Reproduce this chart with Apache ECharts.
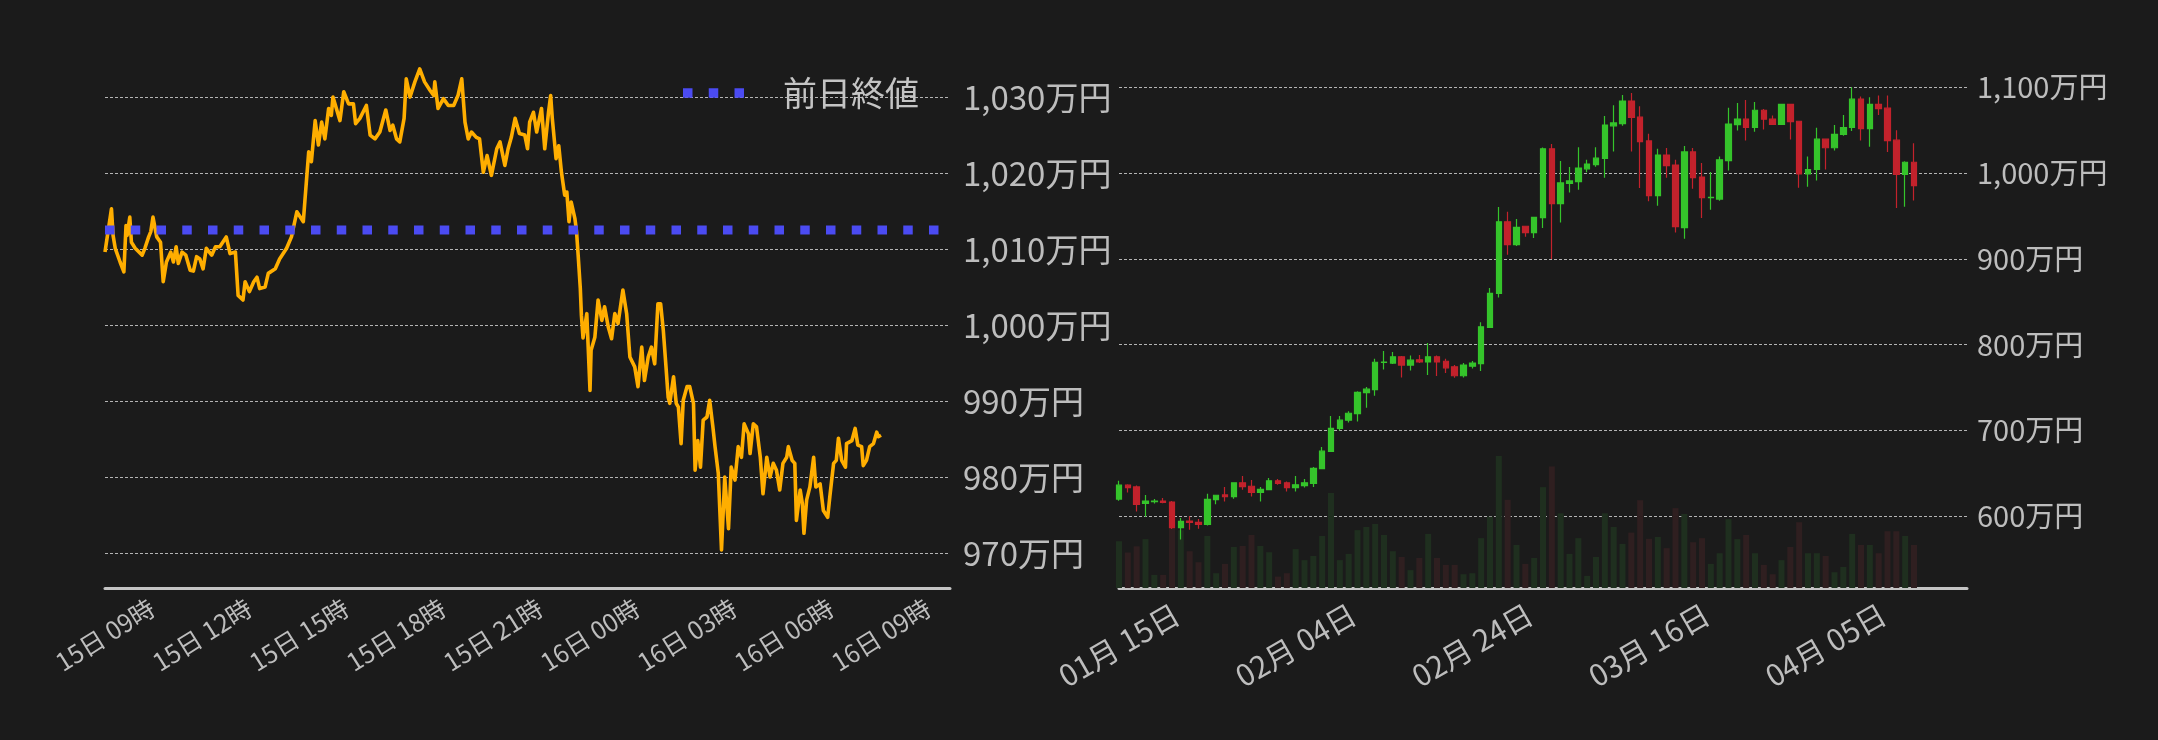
<!DOCTYPE html>
<html>
<head>
<meta charset="utf-8">
<script src="https://cdn.jsdelivr.net/npm/echarts@6/dist/echarts.min.js"></script>
<style>
html,body{margin:0;padding:0;background:#1b1b1b;}
#c{width:2158px;height:740px;}
</style>
</head>
<body>
<div id="c"></div>
<script>
// ---------- Left: intraday price (minutes after 15日 09:00) ----------
const lineMinutes = [0,12,15,19,28,35,39,41,46,49,56,69,74,81,85,89,96,103,108,114,122,127,132,136,143,150,158,164,170,176,182,188,198,205,213,225,232,242,247,256,260,268,276,282,287,297,303,316,324,337,346,356,368,371,378,383,390,396,402,408,415,420,423,436,443,452,461,465,473,485,492,501,510,521,529,534,541,547,555,559,566,575,584,593,603,610,612,618,628,637,647,655,662,668,674,680,689,695,702,709,717,727,733,742,748,754,761,769,779,784,788,795,801,810,816,823,827,830,837,842,847,853,857,861,865,872,875,878,882,884,887,894,900,902,909,915,922,927,934,940,946,952,961,968,974,983,989,996,1001,1008,1014,1020,1026,1031,1036,1041,1045,1048,1055,1060,1064,1069,1073,1080,1085,1092,1095,1100,1105,1110,1117,1122,1128,1132,1138,1144,1150,1157,1162,1169,1175,1181,1186,1194,1197,1203,1209,1216,1221,1228,1234,1240,1246,1252,1258,1265,1268,1275,1280,1283,1290,1294,1297,1302,1308,1315,1319,1327,1333,1341,1345,1352,1357,1361,1367,1374,1376,1386,1392,1397,1404,1407,1413,1419,1426,1432,1435,1440];
const linePrices = [1009.6,1015.3,1011.8,1010.1,1008.3,1007.0,1013.1,1011.8,1014.2,1010.9,1010.1,1009.2,1010.1,1011.6,1012.3,1014.2,1011.6,1010.9,1005.7,1008.3,1009.6,1008.3,1010.3,1008.1,1009.6,1009.2,1007.2,1007.1,1009.0,1008.7,1007.4,1010.1,1009.2,1010.3,1010.3,1011.6,1009.4,1009.6,1003.9,1003.3,1005.7,1004.4,1005.7,1006.3,1004.8,1005.0,1006.8,1007.4,1008.7,1010.1,1011.6,1014.9,1013.6,1016.4,1022.8,1021.5,1026.9,1023.7,1026.7,1024.5,1028.5,1027.6,1030.0,1026.9,1030.7,1029.1,1029.1,1026.5,1027.2,1028.9,1025.0,1024.5,1025.4,1028.3,1025.6,1026.3,1024.5,1024.1,1027.2,1032.4,1030.0,1032.0,1033.7,1032.0,1030.9,1030.2,1032.0,1028.5,1029.8,1028.9,1028.9,1030.2,1032.4,1026.7,1024.5,1025.4,1024.7,1024.5,1020.1,1022.3,1019.7,1023.2,1024.1,1021.0,1023.2,1024.7,1027.2,1025.2,1025.0,1023.2,1026.7,1028.0,1025.4,1028.5,1023.2,1028.0,1030.2,1027.2,1021.9,1023.6,1020.1,1017.1,1017.5,1013.6,1016.2,1014.0,1012.3,1009.2,1004.8,1001.3,998.3,1001.5,991.4,996.7,998.4,1003.3,1000.6,1002.4,999.7,998.2,1001.5,1000.2,1004.6,1001.5,995.8,994.5,991.9,997.1,992.7,995.8,997.1,994.9,1002.8,1002.8,999.3,994.5,990.5,989.7,993.2,989.7,989.2,984.4,990.1,991.9,991.9,989.7,980.9,984.8,981.3,987.5,987.9,990.1,986.6,984.0,980.5,970.4,980.0,973.2,981.3,979.6,984.0,982.6,987.0,985.7,983.1,987.0,986.6,982.6,977.8,982.6,980.0,981.8,980.9,978.3,981.8,982.6,984.0,982.2,981.8,974.3,978.3,976.5,972.6,977.0,978.7,982.6,978.7,979.1,975.6,974.7,977.4,981.8,982.2,985.1,982.2,981.3,984.4,984.8,986.4,984.2,984.0,981.5,982.2,984.0,984.4,985.9,985.3,985.5];
const prevClose = 1012.5;
const prevCloseName = '前日終値';
const timeAxisMax = 1568; // minutes shown on the intraday axis

// ---------- Right: daily candles ----------
const monthSpans = [[1,15,31],[2,1,28],[3,1,31],[4,1,21]]; // month, first day, last day on axis
const candleOpen = [620.0,636.1,634.1,614.8,617.0,617.6,616.4,586.7,594.4,592.8,590.4,619.2,624.8,622.8,638.9,634.9,627.7,630.9,641.3,638.9,633.3,635.7,638.1,655.4,675.4,702.3,711.9,719.6,744.0,747.6,779.2,778.5,785.8,776.1,782.2,779.8,785.8,780.6,774.1,763.7,774.9,777.7,819.9,859.6,943.1,916.6,937.9,930.6,947.9,1028.2,964.4,988.0,990.0,1004.9,1009.7,1016.9,1055.0,1057.5,1083.9,1065.1,1037.4,973.6,1020.9,1009.3,936.3,1024.5,995.3,971.4,969.6,1014.5,1056.3,1062.7,1053.0,1073.1,1062.7,1056.7,1079.9,1060.3,998.9,1004.1,1039.4,1029.4,1045.0,1053.0,1086.0,1051.8,1079.9,1075.5,1038.2,998.5,1012.5];
const candleClose = [636.1,633.3,613.6,617.6,617.6,616.0,586.7,594.0,592.8,590.4,619.6,624.4,622.8,638.9,634.5,627.7,631.3,641.3,638.1,633.3,636.5,638.9,655.8,675.8,702.3,711.9,720.0,744.4,748.0,779.4,779.6,785.8,776.1,781.8,779.8,785.8,779.8,772.9,763.7,776.1,778.5,820.7,859.6,943.1,916.6,936.7,930.6,948.3,1028.2,964.4,988.4,990.8,1005.7,1010.5,1017.3,1055.9,1058.3,1083.9,1064.7,1036.6,973.6,1020.9,1008.5,937.5,1024.5,994.5,971.2,971.6,1015.3,1057.1,1062.7,1053.0,1073.1,1062.7,1056.7,1079.9,1059.9,998.9,1004.1,1039.4,1029.4,1045.0,1053.0,1086.0,1051.8,1079.9,1075.1,1037.8,998.5,1012.5,985.2];
const candleLow = [618.0,627.7,605.6,599.2,614.8,615.2,585.1,572.7,584.3,585.5,589.2,614.0,617.2,620.4,630.9,622.8,617.2,630.5,636.5,628.9,628.9,633.3,634.1,655.0,675.0,699.9,709.1,710.3,726.4,740.4,770.9,777.3,761.7,769.7,778.5,764.5,763.3,766.9,761.3,761.7,772.1,769.3,819.9,854.8,904.6,915.0,925.8,924.2,935.9,899.7,942.3,977.2,980.4,1000.9,1007.3,994.5,1025.0,1055.0,1025.0,982.4,967.2,961.9,994.5,930.6,923.4,981.6,947.5,957.1,967.6,1002.9,1049.4,1037.8,1048.2,1050.6,1056.7,1056.7,1039.0,982.8,984.0,991.2,1004.1,1026.2,1043.4,1049.0,1037.8,1030.6,1067.5,1024.5,959.1,960.7,968.0];
const candleHigh = [641.3,637.3,635.7,624.8,620.0,621.2,617.6,598.0,600.0,596.8,626.1,625.0,634.1,639.5,646.9,642.1,634.1,644.5,643.3,640.5,646.9,643.3,657.4,680.6,716.7,716.7,722.4,745.6,750.5,783.4,792.6,791.4,786.6,787.4,787.8,801.8,787.4,783.4,776.1,778.5,780.9,825.9,866.0,960.3,954.7,946.3,938.5,949.0,1029.8,1033.8,1014.1,1006.9,1030.1,1015.3,1030.1,1066.3,1079.1,1090.8,1093.2,1077.9,1045.8,1028.2,1029.0,1015.3,1031.4,1029.0,1011.7,1001.3,1019.3,1075.9,1081.5,1085.1,1082.7,1074.7,1067.1,1080.7,1079.9,1060.3,1019.3,1052.6,1040.2,1055.9,1067.5,1100.0,1089.2,1088.4,1090.4,1090.4,1049.8,1013.7,1034.6];
const volumes = [46.8,35.5,41.7,48.9,13.1,13.1,59.6,57.9,36.8,25.8,52.0,14.8,24.1,41.0,42.0,53.0,42.0,35.8,11.4,14.8,38.9,27.9,32.0,52.0,95.0,27.9,34.1,57.9,61.0,64.0,53.0,36.8,31.0,17.9,30.0,54.1,30.0,23.1,23.1,13.8,14.8,49.9,71.3,131.9,88.2,43.0,24.1,30.0,100.9,121.6,74.7,34.1,49.9,12.1,31.0,74.7,61.0,44.1,55.4,87.8,49.2,51.0,39.9,79.9,74.0,45.8,49.9,24.1,34.8,68.9,48.9,53.0,34.8,23.1,13.8,27.9,41.0,65.8,34.8,34.8,32.0,15.8,21.0,54.1,43.0,43.0,34.8,56.8,56.8,52.0,43.0];

// ---------- build ----------
const pad2 = n => (n < 10 ? '0' : '') + n;
const dateCats = [];
monthSpans.forEach(([m, d0, d1]) => { for (let d = d0; d <= d1; d++) dateCats.push(pad2(m) + '月 ' + pad2(d) + '日'); });

const lineData = lineMinutes.map((t, i) => [t, linePrices[i]]);
const candleData = candleOpen.map((o, i) => [o, candleClose[i], candleLow[i], candleHigh[i]]);
const UP = '#35c42b', DOWN = '#c3222c';
const UPV = '#1f2f1f', DOWNV = '#2f1f20';
const volData = volumes.map((v, i) => ({ value: v, itemStyle: { color: candleClose[i] >= candleOpen[i] ? UPV : DOWNV } }));

const FONT = '"Noto Sans CJK JP", "Noto Sans", sans-serif';
const LABEL = '#bdbdbd';
const BLUE = '#4b4bf2';
const yen = v => Math.round(v).toLocaleString('en-US') + '万円';
const gridLine = { show: true, showMinLine: false, showMaxLine: false, lineStyle: { color: '#b4b4b4', width: 1, type: [3, 2] } };

const chart = echarts.init(document.getElementById('c'), null, { renderer: 'canvas' });
chart.setOption({
  backgroundColor: '#1b1b1b',
  animation: false,
  textStyle: { fontFamily: FONT },
  legend: {
    data: [{ name: prevCloseName, icon: 'path://M0,0h9.5v9.5h-9.5z M25.75,0h9.5v9.5h-9.5z M51.5,0h9.5v9.5h-9.5z' }],
    left: 683, top: 76, padding: 0,
    itemWidth: 61, itemHeight: 9.5,
    itemStyle: { color: BLUE },
    textStyle: { color: '#c4c4c4', fontSize: 34, fontFamily: FONT, padding: [0, 0, 0, 34] }
  },
  grid: [
    { left: 105, right: 1208, top: 34, bottom: 152, containLabel: false, outerBoundsMode: 'none' },
    { left: 1119, right: 191, top: 34, bottom: 152, containLabel: false, outerBoundsMode: 'none' }
  ],
  xAxis: [
    {
      type: 'value', gridIndex: 0, min: 0, max: timeAxisMax, interval: 180,
      axisLine: { show: true, onZero: false, lineStyle: { color: '#c4c4c4', width: 3 } },
      axisTick: { show: false }, splitLine: { show: false },
      axisLabel: {
        color: LABEL, fontSize: 25, fontFamily: FONT, rotate: 32, align: 'center', verticalAlign: 'middle', margin: 47,
        showMaxLabel: false,
        formatter: v => { const tot = 9 * 60 + v; const day = 15 + Math.floor(tot / 1440); const h = Math.floor((tot % 1440) / 60); return day + '日 ' + pad2(h) + '時'; }
      }
    },
    {
      type: 'category', gridIndex: 1, data: dateCats, boundaryGap: false,
      axisLine: { show: true, onZero: false, lineStyle: { color: '#c4c4c4', width: 3 } },
      axisTick: { show: false }, splitLine: { show: false },
      axisLabel: { color: LABEL, fontSize: 30, fontFamily: FONT, rotate: 30, align: 'center', verticalAlign: 'middle', margin: 57, interval: 19 }
    }
  ],
  yAxis: [
    {
      type: 'value', gridIndex: 0, position: 'right', min: 965.4, max: 1038.3, minInterval: 10, maxInterval: 10, scale: true,
      axisLine: { show: false }, axisTick: { show: false }, splitLine: gridLine,
      axisLabel: { color: LABEL, fontSize: 33, fontFamily: FONT, margin: 13, showMinLabel: false, showMaxLabel: false, formatter: yen }
    },
    {
      type: 'value', gridIndex: 1, position: 'right', min: 516.3, max: 1162, minInterval: 100, maxInterval: 100, scale: true,
      axisLine: { show: false }, axisTick: { show: false }, splitLine: gridLine,
      axisLabel: { color: LABEL, fontSize: 29, fontFamily: FONT, margin: 10, showMinLabel: false, showMaxLabel: false, formatter: yen }
    },
    {
      type: 'value', gridIndex: 1, min: 0, max: 554, show: false, splitLine: { show: false }
    }
  ],
  series: [
    {
      name: 'price', type: 'line', xAxisIndex: 0, yAxisIndex: 0, data: lineData,
      showSymbol: false, symbol: 'none', smooth: false,
      lineStyle: { color: '#ffae00', width: 3.6, join: 'round' }, z: 3
    },
    {
      name: prevCloseName, type: 'line', xAxisIndex: 0, yAxisIndex: 0,
      data: [[0, prevClose], [timeAxisMax, prevClose]], showSymbol: false, symbol: 'none',
      itemStyle: { color: BLUE },
      lineStyle: { color: BLUE, width: 9, type: [9.5, 16.25], cap: 'butt' }, z: 4
    },
    {
      name: 'volume', type: 'bar', xAxisIndex: 1, yAxisIndex: 2, data: volData, barWidth: 6, z: 1
    },
    {
      name: 'candle', type: 'candlestick', xAxisIndex: 1, yAxisIndex: 1, data: candleData, barWidth: 6, z: 3,
      itemStyle: { color: UP, color0: DOWN, borderColor: UP, borderColor0: DOWN, borderWidth: 1.2 }
    }
  ]
});
</script>
</body>
</html>
